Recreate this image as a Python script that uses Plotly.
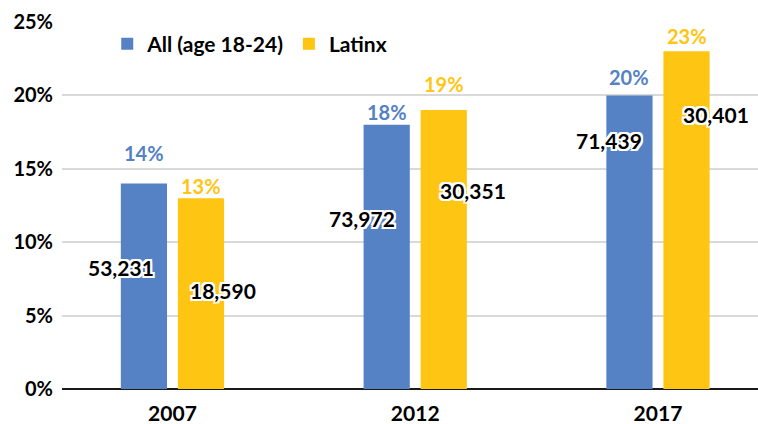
import plotly.graph_objects as go

categories = ["2007", "2012", "2017"]
all_pct = [14, 18, 20]
latinx_pct = [13, 19, 23]
all_counts = ["53,231", "73,972", "71,439"]
latinx_counts = ["18,590", "30,351", "30,401"]
tick_vals = [0, 5, 10, 15, 20, 25]
tick_text = ["0%", "5%", "10%", "15%", "20%", "25%"]

# label placement (x offset from category centre, y in % units)
all_pct_label_y = [16.1, 18.9, 21.25]
latinx_pct_label_y = [13.8, 20.8, 24.05]
all_count_label = [(-0.21, 8.3), (-0.22, 11.6), (-0.20, 16.9)]
latinx_count_label = [(0.21, 6.7), (0.24, 13.5), (0.24, 18.7)]

BLUE = "#5482C4"
GOLD = "#FFC513"
FONT = "Lato"

fig = go.Figure()
fig.add_trace(go.Bar(name="All (age 18-24)", x=categories, y=all_pct,
                     marker=dict(color=BLUE, line=dict(width=0))))
fig.add_trace(go.Bar(name="Latinx", x=categories, y=latinx_pct,
                     marker=dict(color=GOLD, line=dict(width=0))))

halo = ("2px 2px 0 white, -2px -2px 0 white, 2px -2px 0 white, -2px 2px 0 white, "
        "0 2px 0 white, 2px 0 0 white, 0 -2px 0 white, -2px 0 0 white")

annotations = []
bar_off = 0.1175
for i, c in enumerate(categories):
    annotations.append(dict(x=i - bar_off, y=all_pct_label_y[i], xref="x", yref="y",
                            text=f"{all_pct[i]}%", showarrow=False, yanchor="middle",
                            font=dict(family=FONT, size=20, color=BLUE, weight="bold")))
    annotations.append(dict(x=i + bar_off, y=latinx_pct_label_y[i], xref="x", yref="y",
                            text=f"{latinx_pct[i]}%", showarrow=False, yanchor="middle",
                            font=dict(family=FONT, size=20, color=GOLD, weight="bold")))
    dx, yy = all_count_label[i]
    annotations.append(dict(x=i + dx, y=yy, xref="x", yref="y",
                            text=all_counts[i], showarrow=False, yanchor="middle",
                            font=dict(family=FONT, size=21, color="black", weight="bold",
                                      shadow=halo)))
    dx, yy = latinx_count_label[i]
    annotations.append(dict(x=i + dx, y=yy, xref="x", yref="y",
                            text=latinx_counts[i], showarrow=False, yanchor="middle",
                            font=dict(family=FONT, size=21, color="black", weight="bold",
                                      shadow=halo)))

fig.update_layout(
    width=758, height=424,
    margin=dict(l=62, r=0, t=22, b=35, autoexpand=False),
    paper_bgcolor="white", plot_bgcolor="white",
    barmode="group", bargap=0.53, bargroupgap=0.19,
    font=dict(family=FONT, size=19, color="black"),
    showlegend=True,
    legend=dict(orientation="h", x=0.065, y=0.94, xanchor="left", yanchor="middle",
                font=dict(family=FONT, size=21, color="black", weight="bold"),
                bgcolor="rgba(0,0,0,0)", traceorder="normal"),
    xaxis=dict(type="category", range=[-0.455, 2.412], showgrid=False, automargin=False,
               tickfont=dict(family=FONT, size=21, color="black", weight="bold"),
               showline=False, ticks="", ticklabelstandoff=10),
    yaxis=dict(range=[0, 25], tickvals=tick_vals, ticktext=tick_text, automargin=False,
               showgrid=True, gridcolor="#D9D9D9", gridwidth=1.5,
               zeroline=True, zerolinecolor="#1a1a1a", zerolinewidth=2,
               showline=False, ticks="", ticklabelstandoff=8,
               tickfont=dict(family=FONT, size=20, color="black", weight="bold")),
    annotations=annotations,
)

fig.write_html("out.html", config={"displayModeBar": False},
               post_script="document.body.style.margin='0';document.body.style.overflow='hidden';")
